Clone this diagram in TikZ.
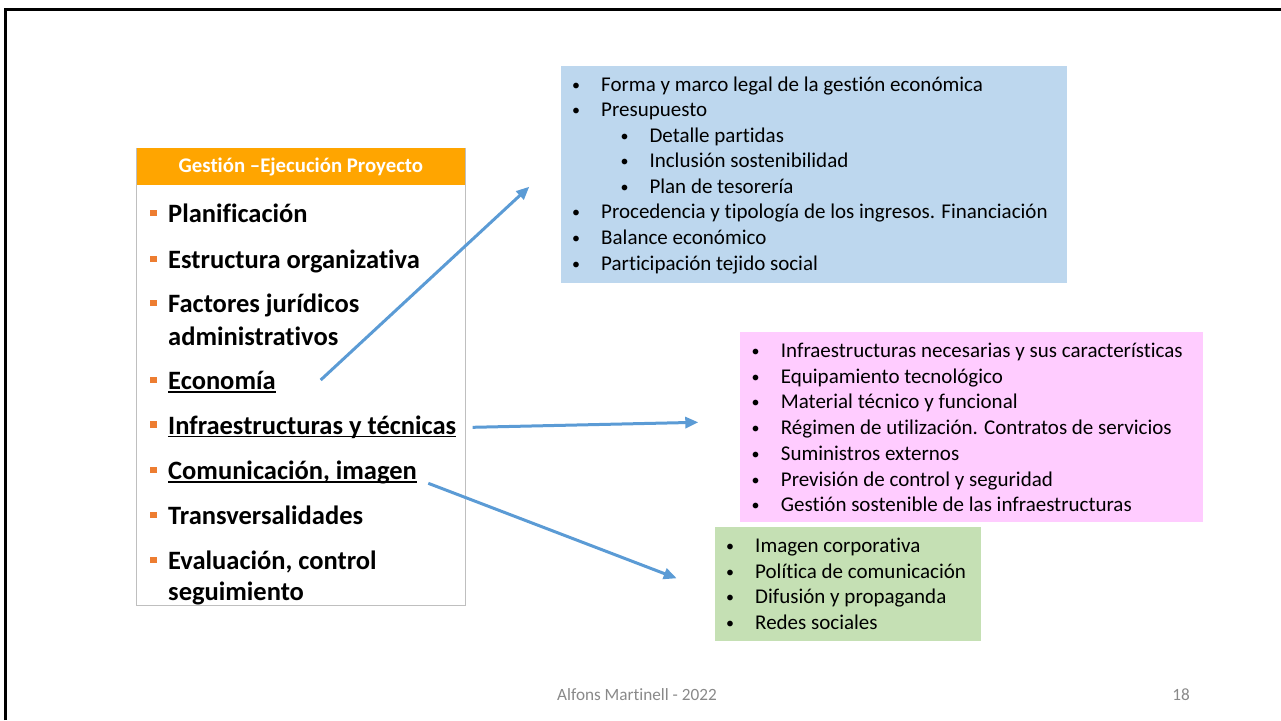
\documentclass[tikz,border=0pt]{standalone}
\usepackage{fontspec}
\setmainfont{Carlito}[Ligatures=NoCommon]
\usepackage{graphicx}
\usetikzlibrary{arrows.meta,calc}
\definecolor{arrowblue}{HTML}{5B9BD5}
\definecolor{hdrorange}{HTML}{FFA500}
\definecolor{bulletorange}{HTML}{ED7D31}
\definecolor{boxblue}{HTML}{BDD7EE}
\definecolor{boxpink}{HTML}{FFCCFF}
\definecolor{boxgreen}{HTML}{C5E0B4}
\definecolor{footgray}{HTML}{898989}
\definecolor{framegray}{HTML}{BFBFBF}
\tikzset{
  panel/.style={anchor=north west, inner sep=0pt, outer sep=0pt, draw=none},
  litem/.style={anchor=base west, inner sep=0pt, font=\bfseries\fontsize{26.5}{30}\selectfont},
  sq/.style={fill=bulletorange, minimum size=6.5pt, inner sep=0pt},
  rline/.style={anchor=base west, inner sep=0pt, font=\fontsize{21}{25}\selectfont},
  uline/.style={line width=1.5pt},
  arr/.style={draw=arrowblue, line width=3pt, -{Triangle[length=13pt,width=11pt]}},
}
\newcommand{\bul}[1]{\makebox[#1][l]{\hspace{1pt}\raisebox{1pt}{\fontsize{16}{16}\selectfont\textbullet}}}
\begin{document}
\begin{tikzpicture}[x=1pt,y=-1pt]
\useasboundingbox (0,0) rectangle (1281,720);
% slide frame
\coordinate (fbl) at (5.8,720);
\coordinate (ftl) at (5.8,9.5);
\coordinate (ftr) at (1281,9.5);
\draw[line width=2.8pt] (fbl) -- (ftl) -- (ftr);

% left box
\node[panel, draw=framegray, line width=1.3pt, minimum width=328.5pt, minimum height=457.5pt] (lbox) at (136.7,148.3) {};
\node[panel, fill=hdrorange, minimum width=328.5pt, minimum height=37pt, text=white, font=\bfseries\fontsize{20.8}{22}\selectfont] (hdr) at (136.7,148.3) {Gestión –Ejecución Proyecto};

\node[litem] (plan) at (168,222.7) {Planificación};
\node[litem] (estr) at (168,268.3) {Estructura organizativa};
\node[litem] (fact) at (168,312.7) {Factores jurídicos};
\node[litem] (fact2) at (168,345) {administrativos};
\node[litem] (econ) at (168,389.3) {Economía};
\node[litem] (infra) at (168,434) {Infraestructuras y técnicas};
\node[litem] (comu) at (168,479.3) {Comunicación, imagen};
\node[litem] (trans) at (168,524.3) {Transversalidades};
\node[litem] (eval) at (168,569.3) {Evaluación, control};
\node[litem] (eval2) at (168,600) {seguimiento};
\foreach \n/\yy in {plan/222.7,estr/268.3,fact/312.7,econ/389.3,infra/434,comu/479.3,trans/524.3,eval/569.3}{
  \node[sq] (sq-\n) at (153.7,\yy-9.5) {};
}
\draw[uline] ($(econ.base west)+(0,2.5)$) -- ($(econ.base east)+(0,2.5)$);
\draw[uline] ($(infra.base west)+(0,2.5)$) -- ($(infra.base east)+(0,2.5)$);
\draw[uline] ($(comu.base west)+(0,2.5)$) -- ($(comu.base east)+(0,2.5)$);

% blue box
\node[panel, fill=boxblue, minimum width=505.7pt, minimum height=216.7pt] (econbox) at (561,66) {};
\node[rline] (b1) at (571,91) {\bul{30pt}Forma y marco legal de la gestión económica};
\node[rline] (b2) at (571,116.6) {\bul{30pt}Presupuesto};
\node[rline] (b3) at (619.5,142.1) {\bul{29.8pt}Detalle partidas};
\node[rline] (b4) at (619.5,167.7) {\bul{29.8pt}Inclusión sostenibilidad};
\node[rline] (b5) at (619.5,193.3) {\bul{29.8pt}Plan de tesorería};
\node[rline] (b6) at (571,218.9) {\bul{30pt}Procedencia y tipología de los ingresos. Financiación};
\node[rline] (b7) at (571,244.4) {\bul{30pt}Balance económico};
\node[rline] (b8) at (571,270) {\bul{30pt}Participación tejido social};

% pink box
\node[panel, fill=boxpink, minimum width=462.7pt, minimum height=190.3pt] (infrabox) at (740,332) {};
\foreach \t [count=\i] in {Infraestructuras necesarias y sus características,Equipamiento tecnológico,Material técnico y funcional,Régimen de utilización. Contratos de servicios,Suministros externos,Previsión de control y seguridad,Gestión sostenible de las infraestructuras}{
  \node[rline] (p\i) at (750.5,357.5+25.7*\i-25.7) {\bul{30.2pt}\t};
}

% green box
\node[panel, fill=boxgreen, minimum width=265.7pt, minimum height=113.4pt] (combox) at (715,527.3) {};
\foreach \t [count=\i] in {Imagen corporativa,Política de comunicación,Difusión y propaganda,Redes sociales}{
  \node[rline] (g\i) at (725,552.5+25.55*\i-25.55) {\bul{30pt}\t};
}

% arrows
\coordinate (a1s) at (320.7,380);
\coordinate (a1e) at (529.3,186.7);
\coordinate (a2s) at (472.7,427.3);
\coordinate (a2e) at (698.3,422.3);
\coordinate (a3s) at (428.3,483.3);
\coordinate (a3e) at (676.7,578.3);
\draw[arr] (a1s) -- (a1e);
\draw[arr] (a2s) -- (a2e);
\draw[arr] (a3s) -- (a3e);

% footer
\node[anchor=base, inner sep=0pt, text=footgray, font=\fontsize{17.2}{19}\selectfont] (foot) at (637,700) {Alfons Martinell - 2022};
\node[anchor=base, inner sep=0pt, text=footgray, font=\fontsize{17.2}{19}\selectfont] (pnum) at (1181,700) {18};
\end{tikzpicture}
\end{document}
